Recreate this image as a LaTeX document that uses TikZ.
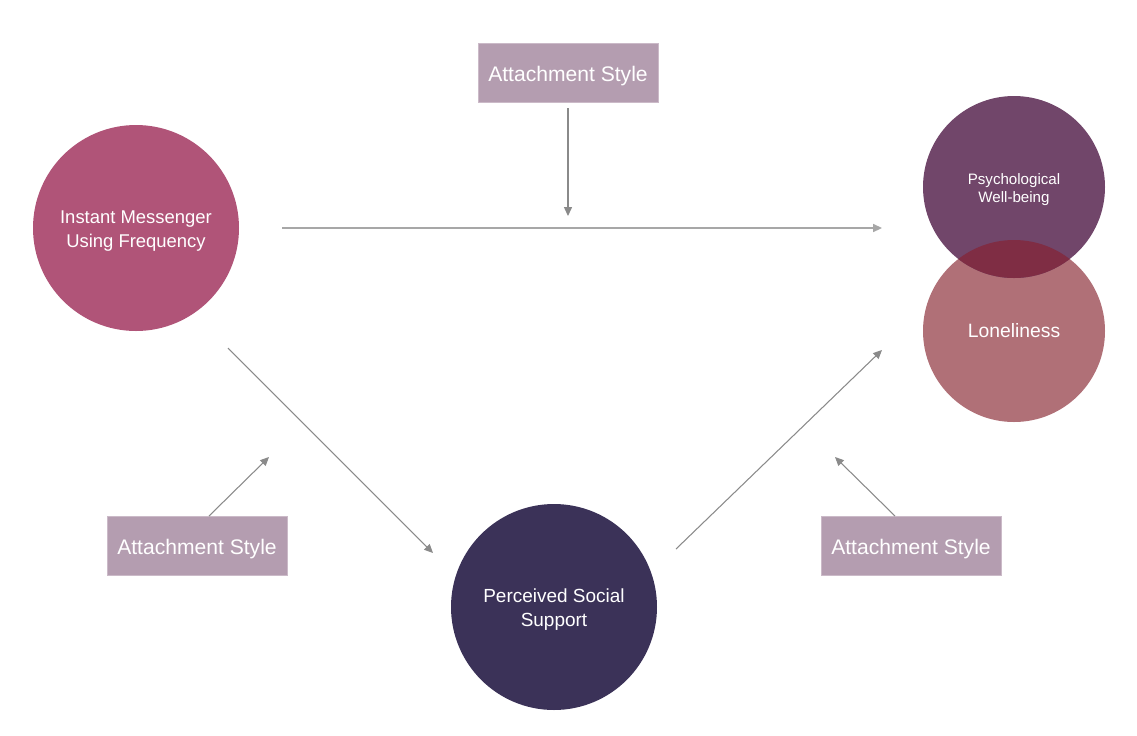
\documentclass[tikz,border=0pt]{standalone}
\usepackage{fontspec}
\setmainfont{Liberation Sans}
\usetikzlibrary{arrows.meta}
\definecolor{imcol}{HTML}{B05478}
\definecolor{pwbcol}{HTML}{71466A}
\definecolor{lonecol}{HTML}{B07077}
\definecolor{overcol}{HTML}{7F2D44}
\definecolor{psscol}{HTML}{3B3258}
\definecolor{boxcol}{HTML}{B49DB0}
\definecolor{arrcol}{HTML}{8A8A8A}
\tikzset{
  bubble/.style={circle, inner sep=0pt, text=white, align=center},
  attbox/.style={rectangle, fill=boxcol, draw=boxcol!70!white, line width=0.4pt, minimum width=180*0.02cm, minimum height=59*0.02cm, text=white, font=\fontsize{12}{14}\selectfont, inner sep=0pt},
  boxlabel/.style={text=white, font=\fontsize{12}{14}\selectfont, inner sep=0pt},
  link/.style={draw=arrcol, line width=0.6pt, -{Triangle[length=5pt,width=4.5pt]}}
}
\begin{document}
\begin{tikzpicture}[x=0.02cm,y=-0.02cm]
\useasboundingbox (0,0) rectangle (1137,735);
% circles
\node[bubble, fill=imcol, minimum size=206*0.02cm] (im) at (136,228) {};
\node[text=white, align=center, font=\fontsize{10.5}{13.6}\selectfont] (imtext) at (136,231) {Instant Messenger\\Using Frequency};
\node[bubble, fill=psscol, minimum size=206*0.02cm] (pss) at (554,607) {};
\node[text=white, align=center, font=\fontsize{10.8}{13.6}\selectfont] (psstext) at (554,610) {Perceived Social\\Support};
\node[bubble, fill=lonecol, minimum size=182*0.02cm] (lone) at (1014,331) {};
\node[bubble, fill=pwbcol, minimum size=182*0.02cm] (pwb) at (1014,187) {};
\begin{scope}
  \clip (1014,331) circle (91);
  \fill[overcol] (1014,187) circle (91);
\end{scope}
\node[text=white, align=center, font=\fontsize{8.6}{10.2}\selectfont] (pwbtext) at (1014,190) {Psychological\\Well-being};
\node[text=white, font=\fontsize{11}{13}\selectfont] (lonetext) at (lone.center) {Loneliness};
% boxes
\node[attbox] (attop) at (568,72.5) {};
\node[boxlabel] at (568,76) {Attachment Style};
\node[attbox] (atleft) at (197,545.5) {};
\node[boxlabel] at (197,549) {Attachment Style};
\node[attbox] (atright) at (911,545.5) {};
\node[boxlabel] at (911,549) {Attachment Style};
% free ends
\coordinate (hstart) at (282,228);
\coordinate (hend) at (882,228);
\coordinate (vstart) at (568,108);
\coordinate (vend) at (568,216);
\coordinate (dstart) at (228,348);
\coordinate (dend) at (433,553);
\coordinate (ustart) at (676,549);
\coordinate (uend) at (882,350);
\coordinate (lstart) at (209,516);
\coordinate (lend) at (269,457);
\coordinate (rstart) at (895,516);
\coordinate (rend) at (835,457);
% connectors
\draw[link, draw=arrcol!75!white, line width=0.9pt] (hstart) -- (hend);
\draw[link] (vstart) -- (vend);
\draw[link] (dstart) -- (dend);
\draw[link] (ustart) -- (uend);
\draw[link] (lstart) -- (lend);
\draw[link] (rstart) -- (rend);
\end{tikzpicture}
\end{document}
